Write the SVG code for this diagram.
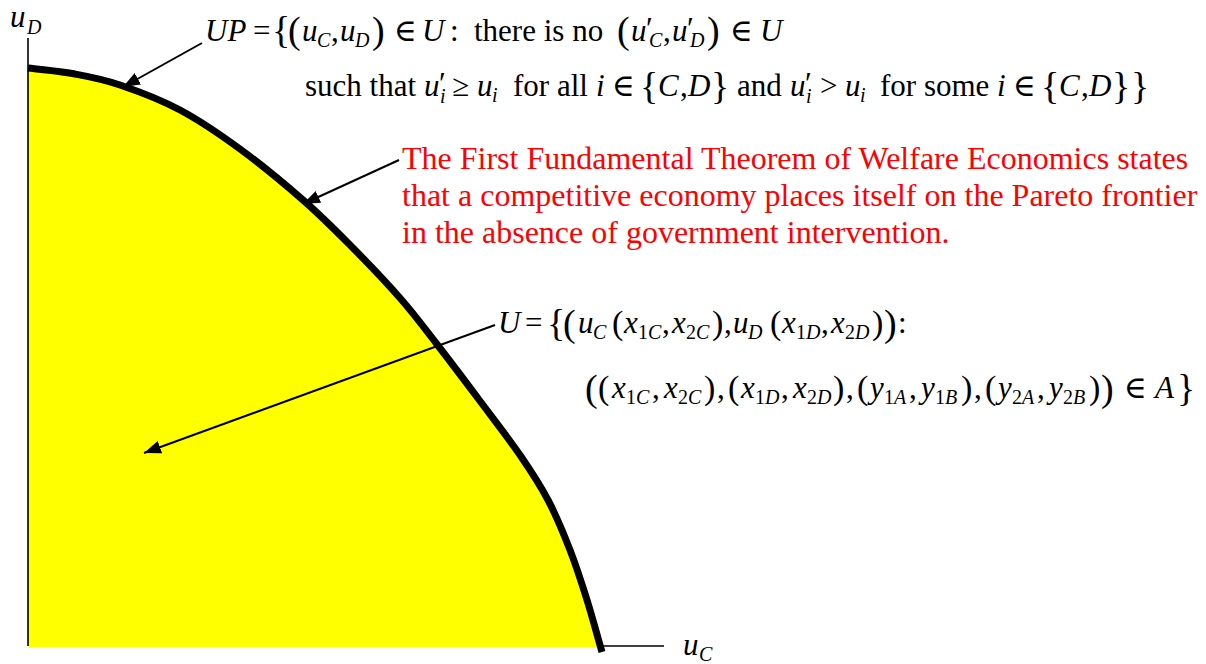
<svg xmlns="http://www.w3.org/2000/svg" width="1206" height="664" viewBox="0 0 1206 664">
<style>
text{font-family:"Liberation Serif","Times New Roman","DejaVu Serif",serif;fill:#000}
.m{font-size:31px}
.i{font-style:italic}
.s{font-size:20px;font-style:italic}
.sr{font-size:20px;font-style:normal}
.b{font-size:38px;font-style:normal}
.p{font-size:34px;font-style:normal}
.red{font-size:32px;fill:#FF0000}
.ax{stroke:#000;stroke-width:1.6;fill:none}
.lead{stroke:#000;stroke-width:2;fill:none;marker-end:url(#ah)}
</style>
<defs>
<marker id="ah" viewBox="0 0 17 13" refX="17" refY="6.5" markerWidth="17" markerHeight="13" markerUnits="userSpaceOnUse" orient="auto">
<path d="M0,0 L17,6.5 L0,13 Z" fill="#000"/>
</marker>
<clipPath id="above-axis"><rect x="0" y="0" width="1206" height="647"/></clipPath>
<path id="frontier" d="M28,68 C43.7,70 59.7,71.2 75,74 C90.3,76.8 102.5,79 120,85 C137.5,91 160,99.3 180,110 C200,120.7 219.5,134 240,149 C260.5,164 284.7,184 303,200 C321.3,216 333.8,228.7 350,245 C366.2,261.3 385.7,281.7 400,298 C414.3,314.3 422.7,325.8 436,343 C449.3,360.2 466,382.3 480,401 C494,419.7 508.7,438.5 520,455 C531.3,471.5 539.7,484.2 548,500 C556.3,515.8 563.5,533.3 570,550 C576.5,566.7 581.7,583 587,600 C592.3,617 597,634.7 602,652"/>
</defs>
<g id="utility-set">
<line class="ax" x1="28" y1="646" x2="664" y2="646"/>
<path clip-path="url(#above-axis)" d="M28,68 C43.7,70 59.7,71.2 75,74 C90.3,76.8 102.5,79 120,85 C137.5,91 160,99.3 180,110 C200,120.7 219.5,134 240,149 C260.5,164 284.7,184 303,200 C321.3,216 333.8,228.7 350,245 C366.2,261.3 385.7,281.7 400,298 C414.3,314.3 422.7,325.8 436,343 C449.3,360.2 466,382.3 480,401 C494,419.7 508.7,438.5 520,455 C531.3,471.5 539.7,484.2 548,500 C556.3,515.8 563.5,533.3 570,550 C576.5,566.7 581.7,583 587,600 C592.3,617 597,634.7 602,652 L28,652 Z" fill="#FFFF00"/>
<line class="ax" x1="28" y1="38" x2="28" y2="646"/>
</g>
<g id="pareto-frontier">
<use href="#frontier" fill="none" stroke="#000" stroke-width="7"/>
</g>
<g id="connectors">
<line class="lead" x1="202" y1="43" x2="123" y2="87"/>
<line class="lead" x1="399" y1="160" x2="303" y2="204"/>
<line class="lead" x1="495" y1="325" x2="144" y2="453"/>
</g>
<g id="axis-labels">
<text class="m i" x="10" y="27">u</text><text class="s" x="27" y="34">D</text>
<text class="m i" x="683" y="655">u</text><text class="s" x="699" y="661">C</text>
</g>
<g id="up-definition">
<text class="m"><tspan class="i" x="205" y="41">UP</tspan><tspan x="253" y="41">=</tspan><tspan class="b" x="272" y="43">{</tspan><tspan class="b" x="288" y="43">(</tspan><tspan class="i" x="302" y="41">u</tspan><tspan class="s" x="317" y="47">C</tspan><tspan x="331" y="41">,</tspan><tspan class="i" x="340" y="41">u</tspan><tspan class="s" x="355" y="47">D</tspan><tspan class="b" x="372" y="43">)</tspan><tspan x="394" y="41">∈</tspan><tspan class="i" x="422" y="41">U</tspan><tspan x="450" y="41">:</tspan><tspan x="474" y="41">there is no</tspan><tspan class="b" x="617" y="43">(</tspan><tspan class="i" x="631" y="41">u</tspan><tspan x="646" y="39">′</tspan><tspan class="s" x="649" y="47">C</tspan><tspan x="663" y="41">,</tspan><tspan class="i" x="672" y="41">u</tspan><tspan x="687" y="39">′</tspan><tspan class="s" x="690" y="47">D</tspan><tspan class="b" x="707" y="43">)</tspan><tspan x="730" y="41">∈</tspan><tspan class="i" x="760" y="41">U</tspan></text>
<text class="m"><tspan x="305" y="96">such that</tspan><tspan class="i" x="424" y="96">u</tspan><tspan x="439" y="94">′</tspan><tspan class="s" x="440" y="103">i</tspan><tspan x="452" y="96">≥</tspan><tspan class="i" x="477" y="96">u</tspan><tspan class="s" x="492" y="102">i</tspan><tspan x="513" y="96">for all</tspan><tspan class="i" x="596" y="96">i</tspan><tspan x="612" y="96">∈</tspan><tspan class="b" x="640" y="99">{</tspan><tspan class="i" x="658" y="96">C</tspan><tspan x="680" y="96">,</tspan><tspan class="i" x="688" y="96">D</tspan><tspan class="b" x="711" y="99">}</tspan><tspan x="737" y="96">and</tspan><tspan class="i" x="790" y="96">u</tspan><tspan x="805" y="94">′</tspan><tspan class="s" x="806" y="103">i</tspan><tspan x="820" y="96">&gt;</tspan><tspan class="i" x="845" y="96">u</tspan><tspan class="s" x="860" y="102">i</tspan><tspan x="880" y="96">for some</tspan><tspan class="i" x="997" y="96">i</tspan><tspan x="1013" y="96">∈</tspan><tspan class="b" x="1041" y="99">{</tspan><tspan class="i" x="1059" y="96">C</tspan><tspan x="1081" y="96">,</tspan><tspan class="i" x="1089" y="96">D</tspan><tspan class="b" x="1112" y="99">}</tspan><tspan class="b" x="1131" y="99">}</tspan></text>
</g>
<g id="first-theorem">
<text class="red"><tspan x="402" y="169">The First Fundamental Theorem of Welfare Economics states</tspan><tspan x="402" y="206">that a competitive economy places itself on the Pareto frontier</tspan><tspan x="402" y="243">in the absence of government intervention.</tspan></text>
</g>
<g id="u-definition">
<text class="m"><tspan class="i" x="498" y="333">U</tspan><tspan x="525" y="333">=</tspan><tspan class="b" x="547" y="336">{</tspan><tspan class="b" x="563" y="336">(</tspan><tspan class="i" x="578" y="333">u</tspan><tspan class="s" x="593" y="339">C</tspan><tspan class="p" x="612" y="334">(</tspan><tspan class="i" x="624" y="333">x</tspan><tspan class="sr" x="638" y="339">1</tspan><tspan class="s" x="648" y="339">C</tspan><tspan x="662" y="333">,</tspan><tspan class="i" x="672" y="333">x</tspan><tspan class="sr" x="686" y="339">2</tspan><tspan class="s" x="696" y="339">C</tspan><tspan class="p" x="712" y="334">)</tspan><tspan x="724" y="333">,</tspan><tspan class="i" x="733" y="333">u</tspan><tspan class="s" x="748" y="339">D</tspan><tspan class="p" x="770" y="334">(</tspan><tspan class="i" x="782" y="333">x</tspan><tspan class="sr" x="796" y="339">1</tspan><tspan class="s" x="806" y="339">D</tspan><tspan x="821" y="333">,</tspan><tspan class="i" x="831" y="333">x</tspan><tspan class="sr" x="845" y="339">2</tspan><tspan class="s" x="855" y="339">D</tspan><tspan class="p" x="872" y="334">)</tspan><tspan class="b" x="884" y="336">)</tspan><tspan x="898" y="333">:</tspan></text>
<text class="m"><tspan class="b" x="585" y="401">(</tspan><tspan class="p" x="598" y="399">(</tspan><tspan class="i" x="612" y="398">x</tspan><tspan class="sr" x="626" y="404">1</tspan><tspan class="s" x="636" y="404">C</tspan><tspan x="652" y="398">,</tspan><tspan class="i" x="664" y="398">x</tspan><tspan class="sr" x="678" y="404">2</tspan><tspan class="s" x="688" y="404">C</tspan><tspan class="p" x="704" y="399">)</tspan><tspan x="717" y="398">,</tspan><tspan class="p" x="728" y="399">(</tspan><tspan class="i" x="741" y="398">x</tspan><tspan class="sr" x="755" y="404">1</tspan><tspan class="s" x="765" y="404">D</tspan><tspan x="781" y="398">,</tspan><tspan class="i" x="793" y="398">x</tspan><tspan class="sr" x="807" y="404">2</tspan><tspan class="s" x="817" y="404">D</tspan><tspan class="p" x="833" y="399">)</tspan><tspan x="846" y="398">,</tspan><tspan class="p" x="857" y="399">(</tspan><tspan class="i" x="870" y="398">y</tspan><tspan class="sr" x="884" y="404">1</tspan><tspan class="s" x="894" y="404">A</tspan><tspan x="909" y="398">,</tspan><tspan class="i" x="921" y="398">y</tspan><tspan class="sr" x="935" y="404">1</tspan><tspan class="s" x="945" y="404">B</tspan><tspan class="p" x="961" y="399">)</tspan><tspan x="974" y="398">,</tspan><tspan class="p" x="985" y="399">(</tspan><tspan class="i" x="998" y="398">y</tspan><tspan class="sr" x="1012" y="404">2</tspan><tspan class="s" x="1022" y="404">A</tspan><tspan x="1037" y="398">,</tspan><tspan class="i" x="1049" y="398">y</tspan><tspan class="sr" x="1063" y="404">2</tspan><tspan class="s" x="1073" y="404">B</tspan><tspan class="p" x="1089" y="399">)</tspan><tspan class="b" x="1101" y="401">)</tspan><tspan x="1124" y="398">∈</tspan><tspan class="i" x="1155" y="398">A</tspan><tspan class="b" x="1177" y="401">}</tspan></text>
</g>
</svg>
